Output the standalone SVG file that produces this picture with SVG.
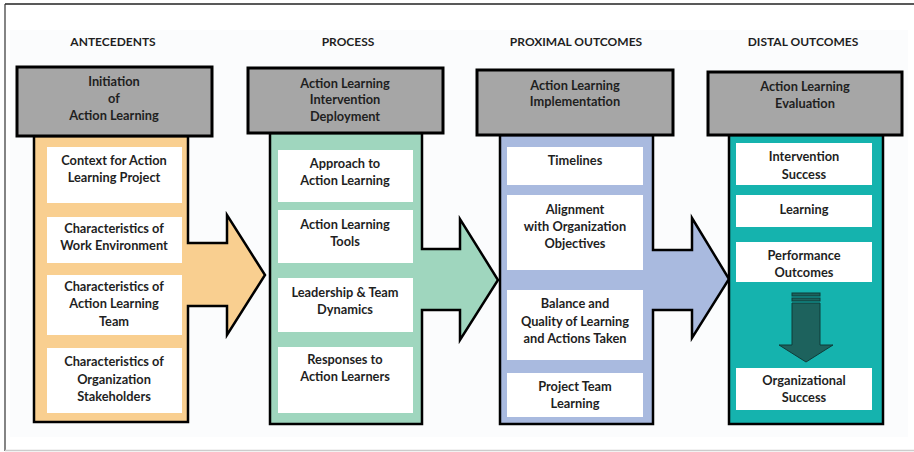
<svg xmlns="http://www.w3.org/2000/svg" width="914" height="452" viewBox="0 0 914 452">
<style>
text{font-family:Lato,"Liberation Sans",sans-serif;font-weight:bold;fill:#1f1f1f;text-anchor:middle}
.t{font-size:12px}
.h{font-size:12.8px}
.s{font-size:12.8px}
.hdr{fill:#a6a6a6;stroke:#000;stroke-width:3}
.body{stroke:#000;stroke-width:2.5;stroke-linejoin:miter}
.box{fill:#fff}
</style>
<rect x="0" y="0" width="914" height="452" fill="#fff"/>
<rect x="10" y="30" width="898" height="407" fill="#fbfcfd"/>
<line x1="5" y1="4" x2="914" y2="4" stroke="#222" stroke-width="1.5"/>
<line x1="5" y1="4" x2="5" y2="451" stroke="#333" stroke-width="1.2"/>
<line x1="5" y1="450.5" x2="914" y2="450.5" stroke="#ccc" stroke-width="1.5"/>

<g id="titles">
<text class="t" x="113" y="46">ANTECEDENTS</text>
<text class="t" x="348" y="46">PROCESS</text>
<text class="t" x="576" y="46">PROXIMAL OUTCOMES</text>
<text class="t" x="803" y="46">DISTAL OUTCOMES</text>
</g>

<g id="antecedents">
<polygon class="body" fill="#f9cf90" points="34,136 188,136 188,243 227,243 227,215 265,275 227,335 227,306 188,306 188,422 34,422"/>
<rect class="hdr" x="17" y="67" width="195" height="69"/>
<text class="h" x="114" y="86">Initiation</text>
<text class="h" x="114" y="103">of</text>
<text class="h" x="114" y="120">Action Learning</text>
<rect class="box" x="47" y="147" width="135" height="56"/>
<text class="s" x="114" y="165">Context for Action</text>
<text class="s" x="114" y="182">Learning Project</text>
<rect class="box" x="47" y="217" width="135" height="46"/>
<text class="s" x="114" y="233">Characteristics of</text>
<text class="s" x="114" y="250">Work Environment</text>
<rect class="box" x="47" y="275" width="135" height="60"/>
<text class="s" x="114" y="291">Characteristics of</text>
<text class="s" x="114" y="308">Action Learning</text>
<text class="s" x="114" y="326">Team</text>
<rect class="box" x="47" y="348" width="135" height="65"/>
<text class="s" x="114" y="366">Characteristics of</text>
<text class="s" x="114" y="384">Organization</text>
<text class="s" x="114" y="401">Stakeholders</text>
</g>

<g id="process">
<polygon class="body" fill="#9fd6be" points="270,133 422,133 422,249 460,249 460,219 498,280 460,340 460,310 422,310 422,424 270,424"/>
<rect class="hdr" x="248" y="68" width="195" height="65"/>
<text class="h" x="345" y="88">Action Learning</text>
<text class="h" x="345" y="104">Intervention</text>
<text class="h" x="345" y="121">Deployment</text>
<rect class="box" x="278" y="150" width="135" height="52"/>
<text class="s" x="345" y="168">Approach to</text>
<text class="s" x="345" y="185">Action Learning</text>
<rect class="box" x="278" y="210" width="135" height="53"/>
<text class="s" x="345" y="229">Action Learning</text>
<text class="s" x="345" y="246">Tools</text>
<rect class="box" x="278" y="278" width="135" height="54"/>
<text class="s" x="345" y="297">Leadership &amp; Team</text>
<text class="s" x="345" y="314">Dynamics</text>
<rect class="box" x="278" y="347" width="135" height="66"/>
<text class="s" x="345" y="364">Responses to</text>
<text class="s" x="345" y="381">Action Learners</text>
</g>

<g id="proximal">
<polygon class="body" fill="#a9badf" points="500,135 653,135 653,250 692,250 692,218 729,279 692,338 692,310 653,310 653,424 500,424"/>
<rect class="hdr" x="477" y="70" width="196" height="65"/>
<text class="h" x="575" y="90">Action Learning</text>
<text class="h" x="575" y="106">Implementation</text>
<rect class="box" x="507" y="147" width="136" height="38"/>
<text class="s" x="575" y="165">Timelines</text>
<rect class="box" x="507" y="195" width="136" height="75"/>
<text class="s" x="575" y="214">Alignment</text>
<text class="s" x="575" y="231">with Organization</text>
<text class="s" x="575" y="248">Objectives</text>
<rect class="box" x="507" y="290" width="136" height="70"/>
<text class="s" x="575" y="308">Balance and</text>
<text class="s" x="575" y="326">Quality of Learning</text>
<text class="s" x="575" y="343">and Actions Taken</text>
<rect class="box" x="507" y="373" width="136" height="44"/>
<text class="s" x="575" y="391">Project Team</text>
<text class="s" x="575" y="408">Learning</text>
</g>

<g id="distal">
<rect class="body" fill="#15b3ae" x="729" y="135" width="154" height="289"/>
<rect class="hdr" x="708" y="72" width="194" height="63"/>
<text class="h" x="805" y="91">Action Learning</text>
<text class="h" x="805" y="108">Evaluation</text>
<rect class="box" x="736" y="143" width="136" height="42"/>
<text class="s" x="804" y="161">Intervention</text>
<text class="s" x="804" y="179">Success</text>
<rect class="box" x="736" y="195" width="136" height="32"/>
<text class="s" x="804" y="214">Learning</text>
<rect class="box" x="736" y="242" width="136" height="40"/>
<text class="s" x="804" y="260">Performance</text>
<text class="s" x="804" y="277">Outcomes</text>
<g id="down-arrow" fill="#1d625d" stroke="#0f3b38" stroke-width="1">
<rect x="792" y="293" width="28" height="3"/>
<rect x="792" y="298" width="28" height="3"/>
<polygon points="792,303 820,303 820,345 833,345 806,362 779,345 792,345"/>
</g>
<rect class="box" x="736" y="368" width="136" height="42"/>
<text class="s" x="804" y="385">Organizational</text>
<text class="s" x="804" y="402">Success</text>
</g>
</svg>
